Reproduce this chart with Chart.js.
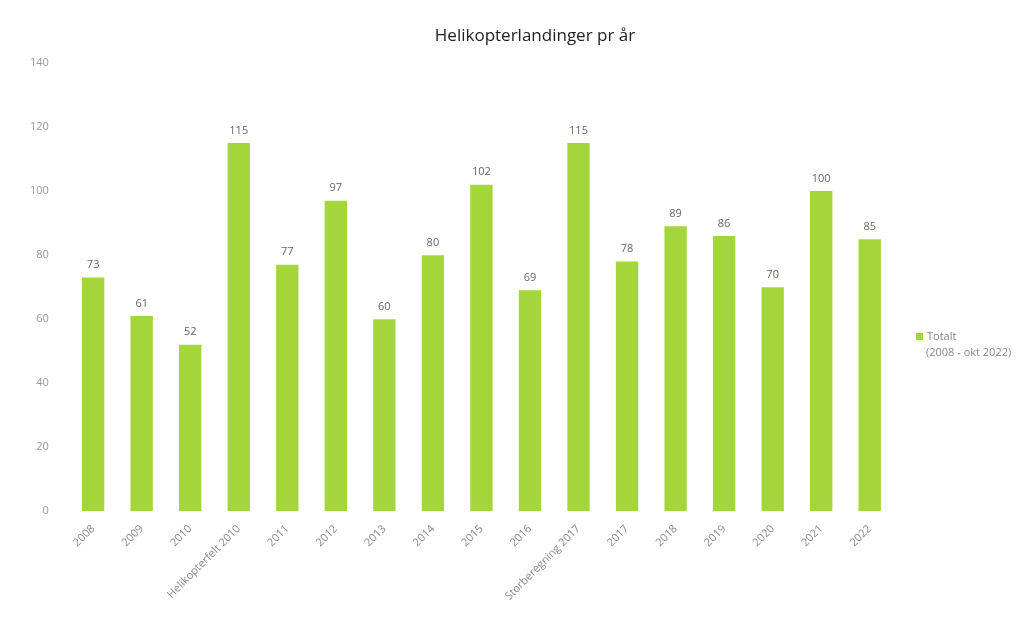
<!DOCTYPE html>
<html>
<head>
<meta charset="utf-8">
<script src="https://cdn.jsdelivr.net/npm/chart.js@4"></script>
<style>
  html, body { margin: 0; padding: 0; background: #fff; }
  #wrap { width: 1028px; height: 638px; position: relative; }
</style>
</head>
<body>
<div id="wrap"><canvas id="heliChart" width="1028" height="638"></canvas></div>
<script>
// Helikopterlandinger pr år
const chartTitle = "Helikopterlandinger pr år";
const years = ["2008", "2009", "2010", "Helikopterfelt 2010", "2011", "2012", "2013", "2014", "2015",
  "2016", "Storberegning 2017", "2017", "2018", "2019", "2020", "2021", "2022"];
const landings = [73, 61, 52, 115, 77, 97, 60, 80, 102, 69, 115, 78, 89, 86, 70, 100, 85];
const yTicks = [0, 20, 40, 60, 80, 100, 120, 140];
const seriesName = ["Totalt", "(2008 - okt 2022)"];

const barColor = "#a3d63a";

// value labels on top of each bar
const valueLabels = {
  id: 'valueLabels',
  afterDatasetsDraw(chart) {
    const ctx = chart.ctx;
    const meta = chart.getDatasetMeta(0);
    ctx.save();
    ctx.font = "11px 'Open Sans'";
    ctx.fillStyle = "#666";
    ctx.textAlign = "center";
    ctx.textBaseline = "bottom";
    meta.data.forEach((bar, i) => {
      ctx.fillText(landings[i], bar.x, bar.y - 7);
    });
    ctx.restore();
  }
};

// title (centred on the page) and legend on the right
const sideLegend = {
  id: 'sideLegend',
  afterDraw(chart) {
    const ctx = chart.ctx;
    ctx.save();
    ctx.font = "17px 'Open Sans'";
    ctx.fillStyle = "#222";
    ctx.textAlign = "center";
    ctx.textBaseline = "middle";
    ctx.fillText(chartTitle, 535, 36);

    const x = chart.chartArea.right + 22;
    const y = 337;
    ctx.fillStyle = barColor;
    ctx.fillRect(x, y - 4, 7, 7);
    ctx.font = "11px 'Open Sans'";
    ctx.fillStyle = "#888";
    ctx.textAlign = "left";
    ctx.fillText(seriesName[0], x + 11, y);
    ctx.fillText(seriesName[1], x + 10, y + 16);
    ctx.restore();
  }
};

new Chart(document.getElementById("heliChart"), {
  type: 'bar',
  data: {
    labels: years,
    datasets: [{
      label: seriesName.join(" "),
      data: landings,
      backgroundColor: barColor,
      barPercentage: 0.46,
      categoryPercentage: 1.0,
    }],
  },
  options: {
    responsive: false,
    animation: false,
    devicePixelRatio: 1,
    layout: { padding: { left: 18, right: 134, top: 63, bottom: 32 } },
    plugins: {
      legend: { display: false },
      tooltip: { enabled: false },
      title: { display: false },
    },
    scales: {
      x: {
        grid: { display: false },
        border: { display: false },
        ticks: {
          color: "#888",
          font: { family: "'Open Sans'", size: 11 },
          minRotation: 45,
          maxRotation: 45,
          autoSkip: false,
        },
      },
      y: {
        min: 0,
        max: 140,
        afterBuildTicks(axis) { axis.ticks = yTicks.map(v => ({ value: v })); },
        grid: { display: false },
        border: { display: false },
        ticks: {
          color: "#999",
          padding: 12,
          font: { family: "'Open Sans'", size: 11 },
        },
      },
    },
  },
  plugins: [valueLabels, sideLegend],
});
</script>
</body>
</html>
